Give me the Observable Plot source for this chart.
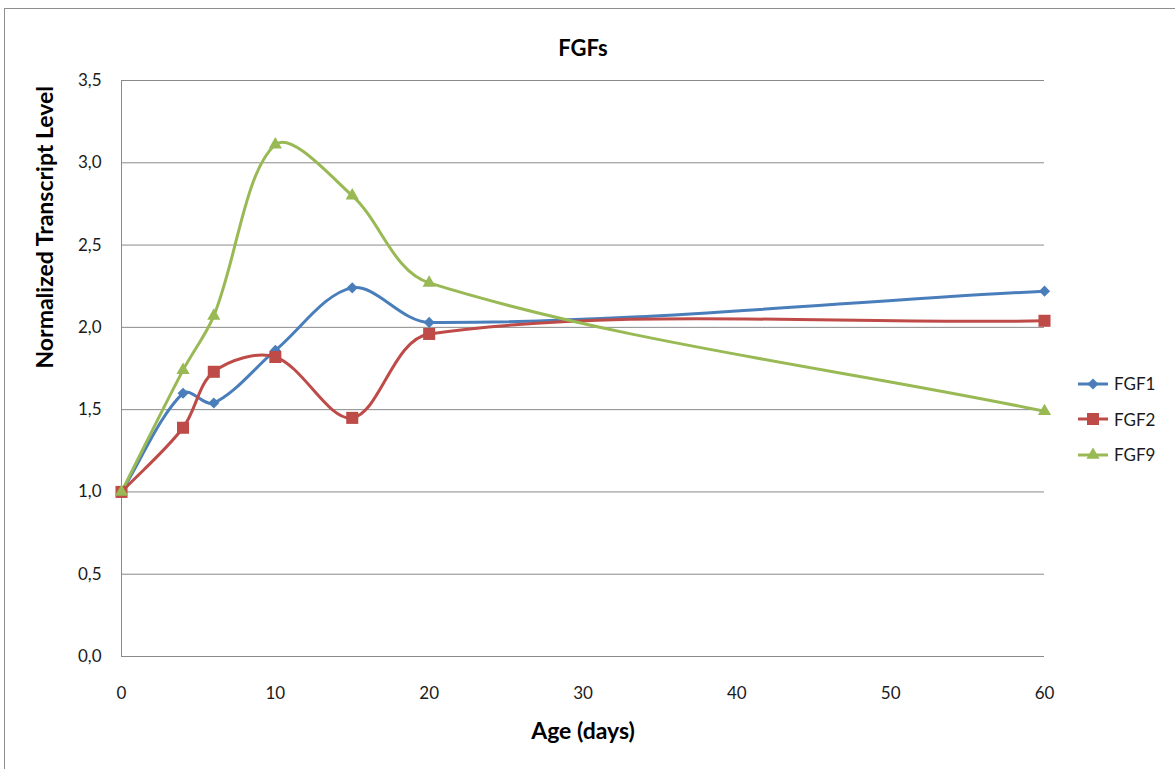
<!DOCTYPE html>
<html><head><meta charset="utf-8">
<script src="https://cdn.jsdelivr.net/npm/d3@7"></script>
<script src="https://cdn.jsdelivr.net/npm/@observablehq/plot@0.6"></script>
<style>
body{margin:0;overflow:hidden;background:#fff;font-family:Lato,"Open Sans",sans-serif;}
#wrap{position:relative;width:1175px;height:769px;overflow:hidden;}
#border{position:absolute;left:4px;top:8px;width:1300px;height:900px;border:1px solid #8e8e8e;box-sizing:border-box;}
#chart{position:absolute;left:0;top:0;}
#legend{position:absolute;left:1077px;top:366px;font-size:17px;color:#1a1a1a;}
.item{display:flex;align-items:center;height:35.5px;}
.item span{margin-left:5px;}
</style>
</head><body>
<div id="wrap"><div id="border"></div><div id="chart"></div><div id="legend"></div></div>
<script>
const days = [0, 4, 6, 10, 15, 20, 60];
const seriesNames = ["FGF1", "FGF2", "FGF9"];
const fgf1 = [1.00, 1.60, 1.54, 1.86, 2.24, 2.03, 2.22];
const fgf2 = [1.00, 1.39, 1.73, 1.82, 1.45, 1.96, 2.04];
const fgf9 = [1.00, 1.74, 2.07, 3.11, 2.80, 2.27, 1.49];
const colors = ["#4a7ebb", "#be4b48", "#98b954"];
const symbols = ["diamond2", "square", "triangle"];
const symbolR = [5, 6.8, 4.9];
const yTicks = [0, 0.5, 1, 1.5, 2, 2.5, 3, 3.5];
const xTicks = [0, 10, 20, 30, 40, 50, 60];
const title = "FGFs";
const xTitle = "Age (days)";
const yTitle = "Normalized Transcript Level";

const values = [fgf1, fgf2, fgf9];
const rows = seriesNames.flatMap((s, i) => days.map((d, j) => ({series: s, day: d, value: values[i][j]})));
const fmtY = v => d3.format(".1f")(v).replace(".", ",");

// Spreadsheet-style smoothed line: cubic Bezier, handles weighted by segment lengths
function SmoothCurve(context) { this._context = context; }
SmoothCurve.prototype = {
  areaStart() {}, areaEnd() {},
  lineStart() { this._pts = []; },
  point(x, y) { this._pts.push([+x, +y]); },
  lineEnd() {
    const p = this._pts, c = this._context, k = 1 / 3;
    if (!p.length) return;
    c.moveTo(p[0][0], p[0][1]);
    const dist = (a, b) => Math.hypot(b[0] - a[0], b[1] - a[1]);
    for (let i = 0; i < p.length - 1; i++) {
      const P0 = p[i - 1] || p[i], P1 = p[i], P2 = p[i + 1], P3 = p[i + 2] || p[i + 1];
      const d01 = dist(P0, P1), d12 = dist(P1, P2), d23 = dist(P2, P3);
      const f1 = d01 + d12 > 0 ? k * d12 / (d01 + d12) : 0;
      const f2 = d12 + d23 > 0 ? k * d12 / (d12 + d23) : 0;
      const c1 = [P1[0] + (P2[0] - P0[0]) * f1, P1[1] + (P2[1] - P0[1]) * f1];
      const c2 = [P2[0] - (P3[0] - P1[0]) * f2, P2[1] - (P3[1] - P1[1]) * f2];
      c.bezierCurveTo(c1[0], c1[1], c2[0], c2[1], P2[0], P2[1]);
    }
  }
};
const curveSmooth = ctx => new SmoothCurve(ctx);

const dotMarks = seriesNames.map((s, i) =>
  Plot.dot(rows.filter(r => r.series === s), {
    x: "day", y: "value", symbol: () => symbols[i], fill: colors[i], stroke: "none", r: symbolR[i]
  })
);

const chart = Plot.plot({
  width: 1175, height: 769,
  marginLeft: 121, marginRight: 131, marginTop: 80, marginBottom: 113,
  style: {fontFamily: "Lato, 'Open Sans', sans-serif", fontSize: "17px", color: "#1a1a1a", background: "transparent"},
  x: {domain: [0, 60], ticks: xTicks, tickSize: 0, tickPadding: 30, tickFormat: d => String(d), label: null},
  y: {domain: [0, 3.5], ticks: yTicks, tickSize: 0, tickPadding: 20, tickFormat: fmtY, label: null},
  symbol: {type: "identity"},
  marks: [
    Plot.ruleY(yTicks, {stroke: "#8a8a8a", strokeWidth: 1}),
    Plot.ruleX([0], {stroke: "#8a8a8a", strokeWidth: 1}),
    Plot.line(rows, {x: "day", y: "value", z: "series", stroke: d => colors[seriesNames.indexOf(d.series)], curve: curveSmooth, strokeWidth: 3}),
    ...dotMarks,
    Plot.text([title], {frameAnchor: "top", dy: -40, fontWeight: "bold", fontSize: 22, fill: "#000"}),
    Plot.text([xTitle], {frameAnchor: "bottom", dy: 82, fontWeight: "bold", fontSize: 23, fill: "#000"}),
    Plot.text([yTitle], {frameAnchor: "left", dx: -76, rotate: -90, fontWeight: "bold", fontSize: 23, fill: "#000"})
  ]
});
document.getElementById("chart").appendChild(chart);

// legend
const legend = document.getElementById("legend");
seriesNames.forEach((s, i) => {
  const item = document.createElement("div");
  item.className = "item";
  const svg = d3.create("svg").attr("width", 32).attr("height", 20);
  svg.append("line").attr("x1", 1).attr("x2", 31).attr("y1", 10).attr("y2", 10).attr("stroke", colors[i]).attr("stroke-width", 3);
  const sym = {diamond2: d3.symbolDiamond2, square: d3.symbolSquare, triangle: d3.symbolTriangle}[symbols[i]];
  svg.append("path").attr("transform", "translate(16,10)").attr("d", d3.symbol(sym, Math.PI * symbolR[i] * symbolR[i])()).attr("fill", colors[i]);
  item.appendChild(svg.node());
  const t = document.createElement("span");
  t.textContent = s;
  item.appendChild(t);
  legend.appendChild(item);
});
</script>
</body></html>
